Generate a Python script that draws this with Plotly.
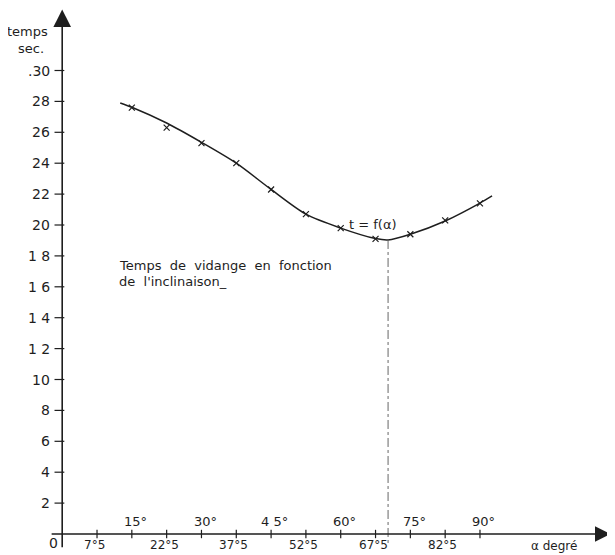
import plotly.graph_objects as go

# ---- data ----
meas_deg = [15, 22.5, 30, 37.5, 45, 52.5, 60, 67.5, 75, 82.5, 90]
meas_t = [27.6, 26.3, 25.3, 24.0, 22.3, 20.7, 19.8, 19.1, 19.4, 20.3, 21.4]

curve_deg = [12.5, 15, 22.5, 30, 37.5, 45, 52.5, 60, 67.5, 70.2, 75, 82.5, 90, 92.6]
curve_t = [27.9, 27.62, 26.6, 25.35, 24.0, 22.3, 20.7, 19.8, 19.12, 19.03, 19.4, 20.26, 21.42, 21.88]

min_deg = 70.2
min_t = 19.03

y_tick_vals = [2, 4, 6, 8, 10, 12, 14, 16, 18, 20, 22, 24, 26, 28, 30]
y_tick_text = ["2", "4", "6", "8", "10", "1 2", "1 4", "1 6", "1 8", "20", "22", "24", "26", "28", ".30"]

x_low_vals = [7.5, 22.5, 37.5, 52.5, 67.5, 82.5]
x_low_text = ["7°5", "22°5", "37°5", "52°5", "67°5", "82°5"]
x_up_vals = [15, 30, 45, 60, 75, 90]
x_up_text = ["15°", "30°", "4 5°", "60°", "75°", "90°"]

INK = "#1e1e1e"
FONT = "DejaVu Sans"

# page body has an 8px margin; figure fills the rest of the 615x555 window
W, H = 607, 547
X0, XS = 62.2 - 8, 4.642   # fig px of 0 deg, px per degree
Y0, YS = 534 - 8, 15.45    # fig px of t=0, px per second
XR = [-X0 / XS, (W - X0) / XS]
YR = [(Y0 - H) / YS, Y0 / YS]

fig = go.Figure()

# curve
fig.add_trace(go.Scatter(x=curve_deg, y=curve_t, mode="lines",
                         line=dict(color=INK, width=1.5, shape="spline", smoothing=0.8),
                         hoverinfo="skip", showlegend=False))
# measured points
fig.add_trace(go.Scatter(x=meas_deg, y=meas_t, mode="markers",
                         marker=dict(symbol="x-thin", size=6, line=dict(color=INK, width=1.2)),
                         showlegend=False))
# vertical dash-dot at minimum
fig.add_trace(go.Scatter(x=[min_deg, min_deg], y=[min_t, -0.75], mode="lines",
                         line=dict(color="#666", width=1, dash="dashdot"),
                         hoverinfo="skip", showlegend=False))
# y ticks
fig.add_trace(go.Scatter(x=[-0.6] * len(y_tick_vals), y=y_tick_vals, mode="markers",
                         marker=dict(symbol="line-ew", size=7, line=dict(color=INK, width=1.2)),
                         hoverinfo="skip", showlegend=False))
# x ticks
fig.add_trace(go.Scatter(x=x_low_vals + x_up_vals, y=[0] * 12, mode="markers",
                         marker=dict(symbol="line-ns", size=6, line=dict(color=INK, width=1.2)),
                         hoverinfo="skip", showlegend=False))

ann = []
# axes with arrows
ann.append(dict(x=0, y=33.95, ax=0, ay=-0.95, xref="x", yref="y", axref="x", ayref="y",
                showarrow=True, arrowhead=2, arrowsize=2.2, arrowwidth=1.6, arrowcolor=INK, text=""))
ann.append(dict(x=118.1, y=0, ax=-2.6, ay=0, xref="x", yref="y", axref="x", ayref="y",
                showarrow=True, arrowhead=2, arrowsize=2.2, arrowwidth=1.4, arrowcolor=INK, text=""))

for v, s in zip(y_tick_vals, y_tick_text):
    ann.append(dict(x=-2.2, y=v, xref="x", yref="y", text=s, showarrow=False,
                    xanchor="right", yanchor="middle", font=dict(family=FONT, size=14, color=INK)))
for v, s in zip(x_low_vals, x_low_text):
    ann.append(dict(x=v - 0.5, y=-0.74, xref="x", yref="y", text=s, showarrow=False,
                    xanchor="center", yanchor="middle", font=dict(family=FONT, size=12, color=INK)))
for v, s in zip(x_up_vals, x_up_text):
    ann.append(dict(x=v + 0.8, y=0.84, xref="x", yref="y", text=s, showarrow=False,
                    xanchor="center", yanchor="middle", font=dict(family=FONT, size=13, color=INK)))

ann.append(dict(x=-1.8, y=-0.6, xref="x", yref="y", text="0", showarrow=False,
                xanchor="center", yanchor="middle", font=dict(family=FONT, size=14, color=INK)))
ann.append(dict(x=105.9, y=-0.78, xref="x", yref="y", text="α degré", showarrow=False,
                xanchor="center", yanchor="middle", font=dict(family=FONT, size=12, color=INK)))
ann.append(dict(x=-7.4, y=32.5, xref="x", yref="y", text="temps", showarrow=False,
                xanchor="center", yanchor="middle", font=dict(family=FONT, size=13, color=INK)))
ann.append(dict(x=-6.7, y=31.45, xref="x", yref="y", text="sec.", showarrow=False,
                xanchor="center", yanchor="middle", font=dict(family=FONT, size=13, color=INK)))
ann.append(dict(x=66.9, y=20.05, xref="x", yref="y", text="t = f(α)", showarrow=False,
                xanchor="center", yanchor="middle", font=dict(family=FONT, size=13, color=INK)))
ann.append(dict(x=11.7, y=17.4, xref="x", yref="y", text="Temps  de  vidange  en  fonction", showarrow=False,
                xanchor="left", yanchor="middle", font=dict(family=FONT, size=13, color=INK)))
ann.append(dict(x=11.7, y=16.35, xref="x", yref="y", text="de  l'inclinaison_", showarrow=False,
                xanchor="left", yanchor="middle", font=dict(family=FONT, size=13, color=INK)))

fig.update_layout(
    width=W, height=H,
    margin=dict(l=0, r=0, t=0, b=0),
    paper_bgcolor="white", plot_bgcolor="white",
    xaxis=dict(range=XR, visible=False, fixedrange=True),
    yaxis=dict(range=YR, visible=False, fixedrange=True),
    annotations=ann,
    showlegend=False,
)

fig.write_html("out.html")
